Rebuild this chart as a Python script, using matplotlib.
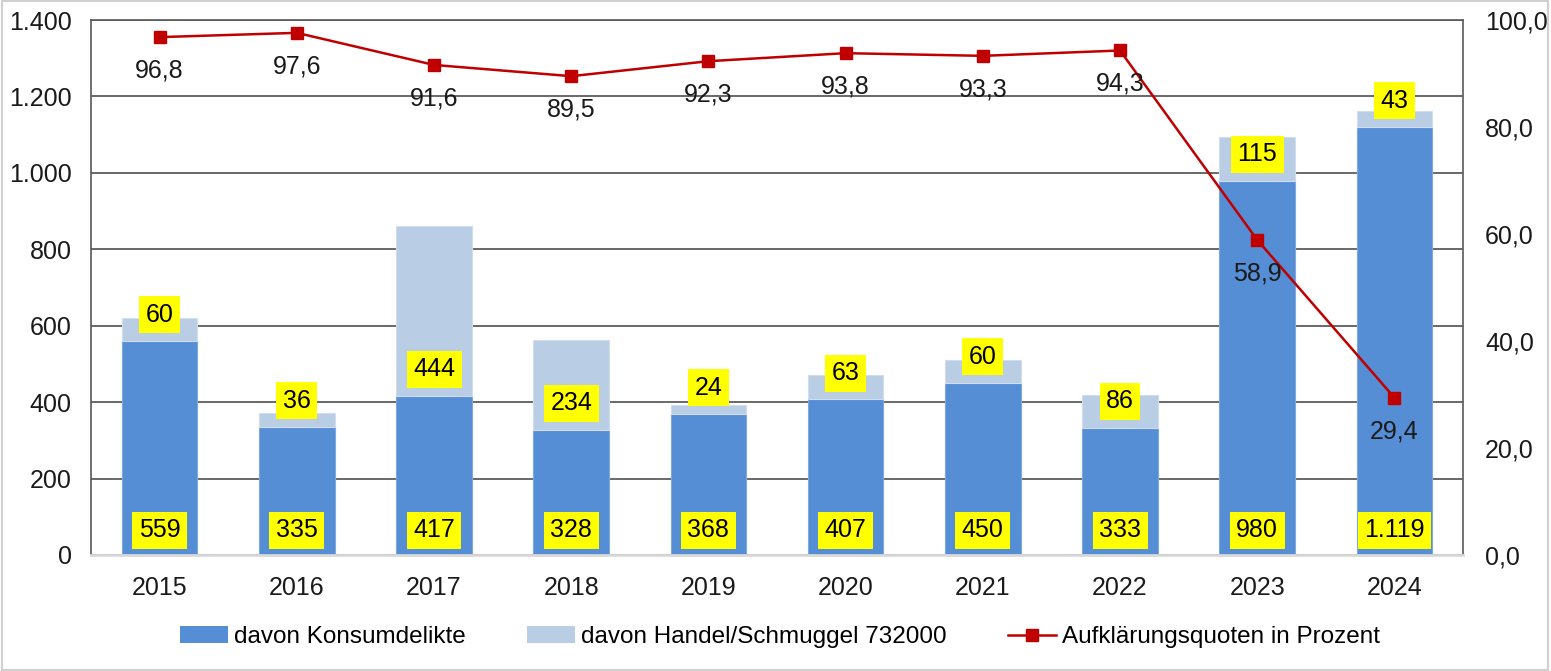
import matplotlib
matplotlib.use("Agg")
import matplotlib.pyplot as plt
from matplotlib.patches import Rectangle
from matplotlib.lines import Line2D
from matplotlib.ticker import FuncFormatter

plt.rcParams['font.family'] = ['Liberation Sans', 'DejaVu Sans']

years = ['2015', '2016', '2017', '2018', '2019', '2020', '2021', '2022', '2023', '2024']
konsum = [559, 335, 417, 328, 368, 407, 450, 333, 980, 1119]
handel = [60, 36, 444, 234, 24, 63, 60, 86, 115, 43]
quote = [96.8, 97.6, 91.6, 89.5, 92.3, 93.8, 93.3, 94.3, 58.9, 29.4]

c_dark = '#558ED5'
c_light = '#B9CDE5'
c_red = '#C00000'
FS = 18

def de_int(v):
    return f"{int(round(v)):,}".replace(',', '.')

def de_dec(v):
    return f"{v:.1f}".replace('.', ',')

fig = plt.figure(figsize=(15.51, 6.71), dpi=100)
ax = fig.add_axes([91/1551, 1-555/671, (1463-91)/1551, (555-20)/671])
x = list(range(len(years)))
w = 0.55
ax.bar(x, konsum, width=w, color=c_dark, edgecolor='#7FA9DE', linewidth=0.8, zorder=2,
       label='davon Konsumdelikte')
ax.bar(x, handel, width=w, bottom=konsum, color=c_light, edgecolor='#D0DDEE', linewidth=0.8,
       zorder=2, label='davon Handel/Schmuggel 732000')

box = dict(boxstyle='square,pad=0.26', facecolor='#FFFF00', edgecolor='none')
for xi, k, h in zip(x, konsum, handel):
    ax.annotate(de_int(k), (xi, 0), xytext=(0, 18), textcoords='offset points',
                ha='center', va='center', fontsize=FS, bbox=box, zorder=5)
    ax.annotate(de_int(h), (xi, k), xytext=(0, 19), textcoords='offset points',
                ha='center', va='center', fontsize=FS, bbox=box, zorder=5)

ax.set_xlim(-0.5, len(years) - 0.5)
ax.set_ylim(0, 1400)
ax.set_yticks(range(0, 1401, 200))
ax.yaxis.set_major_formatter(FuncFormatter(lambda v, p: de_int(v)))
ax.set_xticks(x)
ax.set_xticklabels(years)
ax.tick_params(axis='both', length=0, labelsize=FS, colors='#1a1a1a')
ax.tick_params(axis='y', pad=14)
ax.tick_params(axis='x', pad=15)
ax.grid(axis='y', color='#404040', linewidth=1.1, zorder=0)
ax.set_axisbelow(True)
for s in ['left', 'top', 'right']:
    ax.spines[s].set_color('#595959')
    ax.spines[s].set_linewidth(1.2)
ax.spines['bottom'].set_color('#D9D9D9')
ax.spines['bottom'].set_linewidth(2)

ax2 = ax.twinx()
ax2.plot(x, quote, color=c_red, linewidth=1.8, marker='s', markersize=9, zorder=4,
         label='Aufklärungsquoten in Prozent')
for xi, q in zip(x, quote):
    ax2.annotate(de_dec(q), (xi, q), xytext=(0, -24), textcoords='offset points',
                 ha='center', va='center', fontsize=FS, color='#1a1a1a', zorder=6)
ax2.set_ylim(0, 100)
ax2.set_yticks(range(0, 101, 20))
ax2.yaxis.set_major_formatter(FuncFormatter(lambda v, p: de_dec(v)))
ax2.tick_params(axis='y', length=0, labelsize=FS, pad=16, colors='#1a1a1a')
for s in ax2.spines.values():
    s.set_visible(False)

handles = [Rectangle((0, 0), 1, 1, facecolor=c_dark, edgecolor='none'),
           Rectangle((0, 0), 1, 1, facecolor=c_light, edgecolor='none'),
           Line2D([], [], color=c_red, linewidth=1.8, marker='s', markersize=9)]
labels = ['davon Konsumdelikte', 'davon Handel/Schmuggel 732000', 'Aufklärungsquoten in Prozent']
fig.legend(handles, labels, loc='center', bbox_to_anchor=(780/1551, 1-637/671), ncol=3,
           frameon=False, fontsize=17.5, handlelength=2.0, handleheight=0.65,
           handletextpad=0.25, columnspacing=2.5)

fig.patches.append(Rectangle((0.001, 0.001), 0.997, 0.997, transform=fig.transFigure,
                             fill=False, edgecolor='#D0D0D0', linewidth=1.5))

fig.savefig('out.png', dpi=100)
